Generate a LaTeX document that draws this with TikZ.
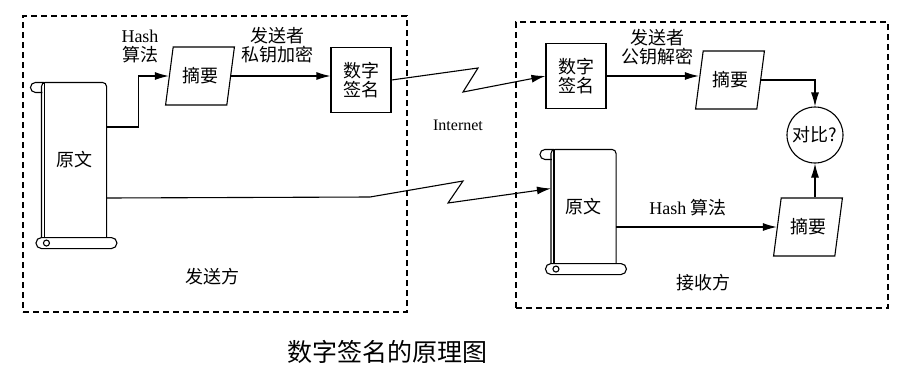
\documentclass[tikz,border=0pt]{standalone}
\usepackage{fontspec}
\setmainfont{Liberation Serif}
\newfontfamily\cjk{Noto Sans CJK SC}
\usetikzlibrary{arrows.meta,shapes.geometric}

% paper scroll with a rolled top and bottom edge
\tikzset{
  pics/scroll/.style={code={
    \node[minimum width=64, minimum height=#1, inner sep=0] (-body) {原文};
    \draw[rounded corners=4] (-body.south west) -- (-body.north west)
      -- (-body.north east) -- (-body.south east);
    \draw ([xshift=3]-body.north west) -- ([xshift=3]-body.south west);
    \draw ([xshift=3]-body.north west) -- ++(-9,0)
      arc[start angle=90, end angle=270, radius=5] -- ++(7,0);
    \draw (-body.south west) -- ++(70,0)
      arc[start angle=90, end angle=-90, radius=5.5] -- ++(-70,0)
      arc[start angle=270, end angle=90, radius=5.5];
    \draw ([xshift=5,yshift=-5.5]-body.south west) circle[radius=3];
  }}
}

\begin{document}
\begin{tikzpicture}[x=1pt, y=1pt, line width=1.1pt,
    font=\cjk\fontsize{18}{19}\selectfont,
    party/.style={draw, dash pattern=on 6pt off 4pt, line width=1.2pt,
                  minimum width=#1, inner sep=0},
    sigbox/.style={draw, minimum width=60, minimum height=65, align=center, inner sep=0},
    digest/.style={draw, trapezium, trapezium left angle=73, trapezium right angle=107,
                   trapezium stretches=true, minimum width=69, minimum height=58, inner sep=0},
    cmpnode/.style={draw, circle, minimum size=56, inner sep=0},
    lbl/.style={align=center, inner sep=0},
    latin/.style={font=\rmfamily\fontsize{16}{18}\selectfont},
    arr/.style={-{Latex[length=14pt, width=8pt]}},
  ]
  \useasboundingbox (0,0) rectangle (905,-376);

  % sender side
  \node[party=384, minimum height=296] (sendbox) at (215,-164) {};
  \pic (origS) at (74,-160) {scroll=154};
  \node[digest] (hashS) at (200,-76) {摘要};
  \node[sigbox] (sigS) at (361,-80) {数字\\签名};
  \node[lbl] (hashlblS) at (140,-46) {{\rmfamily Hash}\\算法};
  \node[lbl] (enclbl) at (277,-45) {发送者\\私钥加密};
  \node (sendlbl) at (212,-277) {发送方};

  % receiver side
  \node[party=372, minimum height=286] (recvbox) at (702,-165) {};
  \pic (origR) at (583.5,-206.5) {scroll=113};
  \node[sigbox] (sigR) at (576,-76) {数字\\签名};
  \node[digest] (hashR1) at (730,-80) {摘要};
  \node[digest] (hashR2) at (808,-227) {摘要};
  \node[cmpnode] (cmp) at (815,-135) {对比?};
  \node[lbl] (declbl) at (657,-47) {发送者\\公钥解密};
  \node[lbl] (hashlblR) at (688,-208) {{\rmfamily Hash} 算法};
  \node (recvlbl) at (703,-283) {接收方};

  % internet
  \node[latin] (net) at (458,-125) {Internet};
  \coordinate (zzA1) at (478,-68);
  \coordinate (zzA2) at (463,-92);
  \coordinate (zzB0) at (370,-197);
  \coordinate (zzB1) at (463,-181);
  \coordinate (zzB2) at (448,-203);

  % arrows
  \draw[arr] ([yshift=33]origS-body.east) -- ++(32,0) |- (hashS.west);
  \draw[arr] (hashS.east) -- (hashS.east -| sigS.west);
  \draw[arr] (sigS.east) -- (zzA1) -- (zzA2) -- (sigR.west);
  \draw[arr] ([yshift=-38]origS-body.east) -- (zzB0) -- (zzB1) -- (zzB2)
    -- ([yshift=18]origR-body.west);
  \draw[arr] (sigR.east) -- (sigR.east -| hashR1.west);
  \draw[arr] (hashR1.east) -| (cmp.north);
  \draw[arr] (hashR2.west -| origR-body.east) -- (hashR2.west);
  \draw[arr] (hashR2.north -| cmp.south) -- (cmp.south);

  % caption
  \node (caption) at (387,-352) {\fontsize{25}{27}\selectfont 数字签名的原理图};
\end{tikzpicture}
\end{document}
